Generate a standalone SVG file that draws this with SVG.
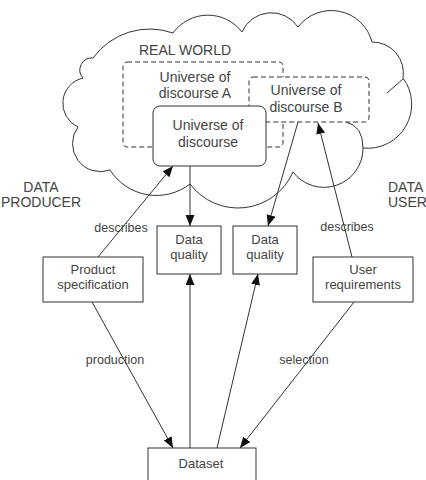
<svg xmlns="http://www.w3.org/2000/svg" width="426" height="480" viewBox="0 0 426 480">
<style>
text{font-family:"Liberation Sans",Arial,sans-serif;fill:#444;text-anchor:middle}
.big{font-size:14px}
.box{font-size:13px}
.lbl{font-size:12.5px}
.cloud{fill:#fff;stroke:#333;stroke-width:1}
.dash{fill:#fff;stroke:#333;stroke-width:1;stroke-dasharray:5,3}
.solid{fill:#fff;stroke:#333;stroke-width:1}
.conn{fill:none;stroke:#333;stroke-width:1}
</style>
<defs>
<marker id="ah" markerUnits="userSpaceOnUse" markerWidth="12" markerHeight="10" refX="11" refY="4.5" orient="auto">
<path d="M0,0 L11,4.5 L0,9 z" fill="#111"/>
</marker>
</defs>
<rect width="426" height="480" fill="#fff"/>
<g id="cloud">
<path class="cloud" d="M78,127 A26,26 0 0 1 83,78 A12,12 0 0 1 93,58 A70,70 0 0 1 173,33 A43,43 0 0 1 242,32 A32,32 0 0 1 298,27 A42,42 0 0 1 372,42 A31,31 0 0 1 403,78 A44,44 0 0 1 363,148 A39,39 0 0 1 293,172 A60,60 0 0 1 190,184 A55,55 0 0 1 110,170 A28,28 0 0 1 78,127 Z"/>
<path class="conn" d="M363,148 Q363,126 346,122"/>
<path class="conn" d="M387,93 L403,79"/>
<text class="big" x="185" y="55">REAL WORLD</text>
</g>
<g id="uod-a">
<rect class="dash" x="123" y="62" width="160" height="85" rx="4"/>
<text class="big" x="195" y="82">Universe of</text>
<text class="big" x="195" y="98">discourse A</text>
</g>
<g id="uod-b">
<rect class="dash" x="249" y="77" width="120" height="45" rx="4"/>
<text class="big" x="306" y="95">Universe of</text>
<text class="big" x="306" y="112">discourse B</text>
</g>
<g id="uod">
<rect class="solid" x="153" y="106" width="113" height="60" rx="7"/>
<text class="big" x="208" y="130">Universe of</text>
<text class="big" x="208" y="147">discourse</text>
</g>
<g id="producer-label">
<text class="big" x="41" y="192">DATA</text>
<text class="big" x="41" y="207">PRODUCER</text>
</g>
<g id="user-label">
<text class="big" x="388" y="192" style="text-anchor:start">DATA</text>
<text class="big" x="388" y="207" style="text-anchor:start">USER</text>
</g>
<g id="dq1">
<rect class="solid" x="157" y="226" width="64" height="48"/>
<text class="box" x="189" y="244">Data</text>
<text class="box" x="189" y="259">quality</text>
</g>
<g id="dq2">
<rect class="solid" x="233" y="226" width="64" height="48"/>
<text class="box" x="265" y="244">Data</text>
<text class="box" x="265" y="259">quality</text>
</g>
<g id="product-spec">
<rect class="solid" x="43" y="257" width="100" height="45"/>
<text class="box" x="93" y="274">Product</text>
<text class="box" x="93" y="289">specification</text>
</g>
<g id="user-req">
<rect class="solid" x="313" y="257" width="100" height="45"/>
<text class="box" x="363" y="274">User</text>
<text class="box" x="363" y="289">requirements</text>
</g>
<g id="dataset">
<rect class="solid" x="148" y="448" width="108" height="40"/>
<text class="box" x="201" y="468">Dataset</text>
</g>
<g id="connectors">
<path class="conn" d="M98,257 L173,166" marker-end="url(#ah)"/>
<path class="conn" d="M190,166 L190,226" marker-end="url(#ah)"/>
<path class="conn" d="M298,122 L268,226" marker-end="url(#ah)"/>
<path class="conn" d="M352,257 L318,123" marker-end="url(#ah)"/>
<path class="conn" d="M190,448 L190,274" marker-end="url(#ah)"/>
<path class="conn" d="M217,448 L258,274" marker-end="url(#ah)"/>
<path class="conn" d="M92,302 L173,448" marker-end="url(#ah)"/>
<path class="conn" d="M354,302 L240,448" marker-end="url(#ah)"/>
<text class="lbl" x="121" y="232">describes</text>
<text class="lbl" x="347" y="231">describes</text>
<text class="lbl" x="115" y="364">production</text>
<text class="lbl" x="304" y="364">selection</text>
</g>
</svg>
